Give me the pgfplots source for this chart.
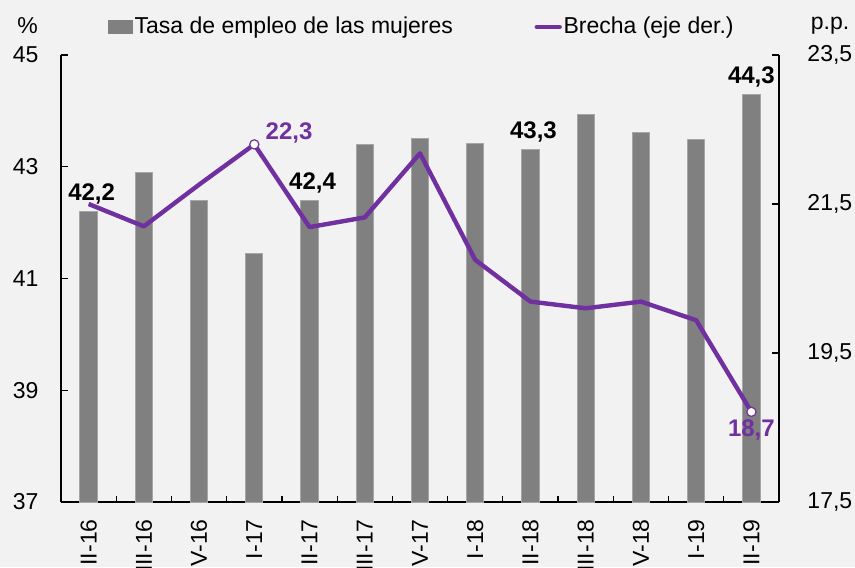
\documentclass[border=0pt]{standalone}
\usepackage{fontspec}
\setmainfont{Liberation Sans}
\usepackage{pgfplots}
\pgfplotsset{compat=1.18}
\definecolor{bgc}{HTML}{F2F2F2}
\definecolor{barc}{HTML}{808080}
\definecolor{baredge}{HTML}{A6A6A6}
\definecolor{purp}{HTML}{7030A0}
\begin{document}
\begin{tikzpicture}[font=\fontsize{11.5}{13.8}\selectfont]
\fill[bgc] (-30.5pt,-32.5pt) rectangle (397pt,251pt);
\begin{axis}[
  scale only axis, width=359pt, height=223.5pt,
  xmin=-0.5, xmax=12.5, ymin=37, ymax=45,
  axis x line*=bottom, axis y line*=left,
  axis line style={line width=0.6pt, -},
  every tick/.style={black, line width=0.6pt},
  tick align=inside,
  ytick={37,39,41,43,45},
  major tick length=3.5pt,
  xtick={-0.5,0.5,...,12.5}, xticklabels={},
  x tick style={/pgfplots/major tick length=2.8pt},
  extra x ticks={0,1,2,3,4,5,6,7,8,9,10,11,12},
  extra x tick labels={II-16,III-16,IV-16,I-17,II-17,III-17,IV-17,I-18,II-18,III-18,IV-18,I-19,II-19},
  extra x tick style={major tick length=0pt, tick label style={rotate=90, anchor=east, inner xsep=8.5pt}},
  yticklabel style={xshift=-7.7pt},
  /pgf/number format/assume math mode=true,
  legend columns=2,
  legend style={draw=none, fill=none, inner sep=0pt, outer sep=0pt,
    at={(axis description cs:0,1)}, anchor=west, xshift=23.5pt, yshift=14pt,
    nodes={inner xsep=0.8pt, inner ysep=0pt},
    /tikz/every even column/.append style={column sep=40pt}},
  clip=false,
]
\addplot[ybar, bar width=8.65pt, bar shift=0pt, fill=barc, draw=baredge, line width=0.5pt,
  legend image code/.code={\fill[barc] (0pt,-3.25pt) rectangle (12pt,3.25pt);}]
  coordinates {(0,42.2) (1,42.9) (2,42.4) (3,41.45) (4,42.4) (5,43.4) (6,43.5) (7,43.42) (8,43.3) (9,43.94) (10,43.62) (11,43.48) (12,44.3)};
\addlegendentry{Tasa de empleo de las mujeres}
\addlegendimage{legend image code/.code={\draw[purp, line width=2.3pt, line cap=round] (0.6pt,0pt) -- (12pt,0pt);}}
\addlegendentry{Brecha (eje der.)}
\node[anchor=base, inner sep=0pt, yshift=5.5pt, xshift=1.5pt, font=\bfseries\fontsize{12}{14}\selectfont] at (axis cs:0,42.2) {42,2};
\node[anchor=base, inner sep=0pt, yshift=5.5pt, xshift=1.5pt, font=\bfseries\fontsize{12}{14}\selectfont] at (axis cs:4,42.4) {42,4};
\node[anchor=base, inner sep=0pt, yshift=5.5pt, xshift=1.5pt, font=\bfseries\fontsize{12}{14}\selectfont] at (axis cs:8,43.3) {43,3};
\node[anchor=base, inner sep=0pt, yshift=5.5pt, font=\bfseries\fontsize{12}{14}\selectfont] at (axis cs:12,44.3) {44,3};
\node[inner sep=0pt, xshift=-16.75pt, yshift=14.5pt] at (axis description cs:0,1) {\%};
\end{axis}
\begin{axis}[
  scale only axis, width=359pt, height=223.5pt,
  xmin=-0.5, xmax=12.5, ymin=17.5, ymax=23.5,
  axis x line=none, axis y line*=right,
  axis line style={line width=0.6pt, -},
  every tick/.style={black, line width=0.6pt},
  tick align=inside, major tick length=3.5pt,
  ytick={17.5,19.5,21.5,23.5},
  yticklabel style={xshift=10.7pt, /pgf/number format/.cd, fixed, fixed zerofill, precision=1, use comma},
  /pgf/number format/assume math mode=true,
  clip=false,
]
\addplot[purp, line width=2.2pt, line join=round, mark=none]
  coordinates {(0,21.5) (1,21.2) (2,21.76) (3,22.3) (4,21.19) (5,21.32) (6,22.18) (7,20.75) (8,20.19) (9,20.1) (10,20.19) (11,19.94) (12,18.71)};
\addplot[only marks, mark=*, mark size=2.3pt, mark options={fill=white, draw=purp, line width=0.6pt}]
  coordinates {(3,22.3) (12,18.71)};
\node[anchor=base west, inner sep=0pt, xshift=5.5pt, yshift=2.5pt, text=purp, font=\bfseries\fontsize{12}{14}\selectfont] at (axis cs:3,22.3) {22,3};
\node[anchor=base, inner sep=0pt, yshift=-12.3pt, text=purp, font=\bfseries\fontsize{12}{14}\selectfont] at (axis cs:12,18.71) {18,7};
\node[inner sep=0pt, xshift=25.5pt, yshift=14.5pt] at (axis description cs:1,1) {p.p.};
\end{axis}
\pgfresetboundingbox
\path[use as bounding box] (-30.5pt,-32.5pt) rectangle (397pt,251pt);
\end{tikzpicture}
\end{document}
